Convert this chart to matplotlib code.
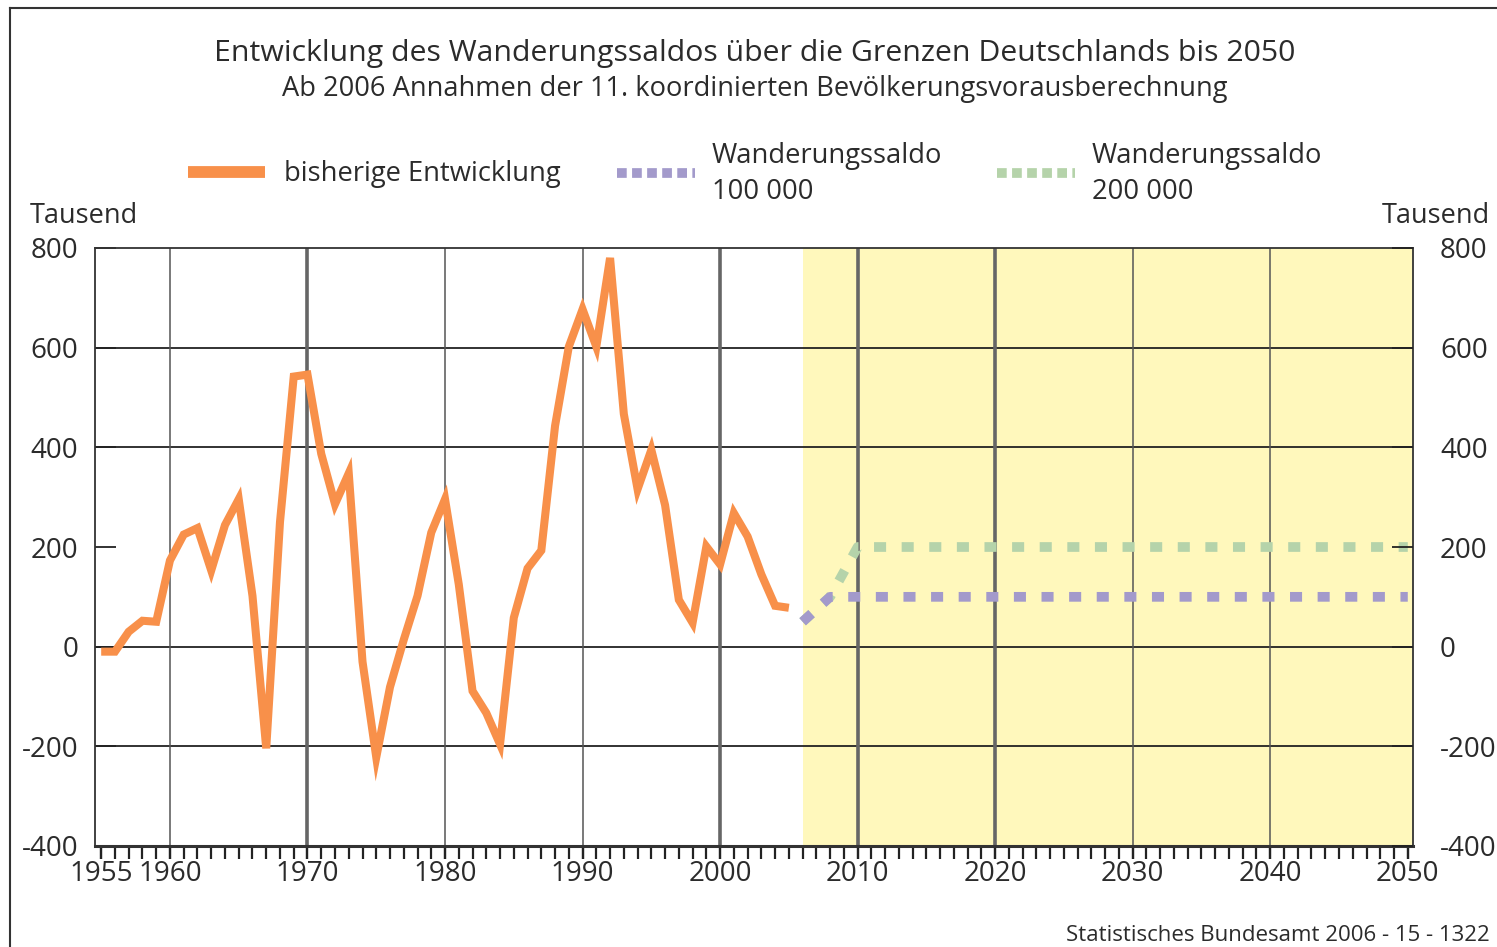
import matplotlib
matplotlib.use("Agg")
import matplotlib.pyplot as plt
from matplotlib.lines import Line2D
from matplotlib.ticker import MultipleLocator, FixedLocator
import numpy as np

plt.rcParams['font.family'] = ['Open Sans', 'DejaVu Sans']

# ---------------- data ----------------
title = "Entwicklung des Wanderungssaldos über die Grenzen Deutschlands bis 2050"
subtitle = "Ab 2006 Annahmen der 11. koordinierten Bevölkerungsvorausberechnung"
unit_label = "Tausend"
source = "Statistisches Bundesamt 2006 - 15 - 1322"

hist_years = list(range(1955, 2006))
hist_values = [-10, -10, 30, 52, 50, 173, 225, 238, 153, 244,
               296, 102, -204, 250, 542, 546, 387, 286, 348, -30,
               -222, -81, 14, 102, 229, 296, 125, -89, -133, -196,
               58, 157, 193, 443, 602, 677, 602, 780, 467, 316,
               395, 284, 94, 48, 201, 165, 268, 221, 145, 82,
               78]

proj100_years = [2006, 2007, 2008, 2050]
proj100_values = [50, 75, 100, 100]
proj200_years = [2006, 2007, 2008, 2009, 2010, 2050]
proj200_values = [50, 75, 100, 150, 200, 200]

label_hist = "bisherige Entwicklung"
label_100 = "Wanderungssaldo\n100 000"
label_200 = "Wanderungssaldo\n200 000"

y_ticks = [800, 600, 400, 200, 0, -200, -400]
y_gridlines = [600, 400, 0, -200]
x_ticks = [1955, 1960, 1970, 1980, 1990, 2000, 2010, 2020, 2030, 2040, 2050]
minor_years = list(range(1955, 2051))
thin_vlines = [1960, 1980, 1990, 2030, 2040]
thick_vlines = [1970, 2000, 2010, 2020]
proj_start = 2006

c_orange = '#F8904A'
c_purple = '#A39ACB'
c_green = '#B5D3AA'
c_yellow = '#FFF8BC'
c_text = '#2b2b2b'

# ---------------- figure ----------------
W, H = 1497, 947
fig = plt.figure(figsize=(W / 100, H / 100), dpi=100)
ax = fig.add_axes([95 / W, 1 - 846 / H, (1413 - 95) / W, (846 - 248) / H])
ax2 = ax.twinx()

x0, x1 = 1954.55, 2050.38
ax.set_xlim(x0, x1)
ax.set_ylim(-400, 800)
ax2.set_ylim(-400, 800)

ax.axvspan(proj_start, x1, color=c_yellow, zorder=0, lw=0)

for y in y_gridlines:
    ax.axhline(y, color='#222222', lw=1.3, zorder=1)
for x in thin_vlines:
    ax.axvline(x, color='#555555', lw=1.1, zorder=1)
for x in thick_vlines:
    ax.axvline(x, color='#666666', lw=2.6, zorder=1)

ax.plot(hist_years, hist_values, color=c_orange, lw=5.8, solid_joinstyle='miter',
        solid_capstyle='butt', zorder=3)
ax.plot(proj200_years, proj200_values, color=c_green, lw=7, dashes=(1.24, 1.6),
        dash_capstyle='butt', zorder=3)
ax.plot(proj100_years, proj100_values, color=c_purple, lw=7, dashes=(1.24, 1.6),
        dash_capstyle='butt', zorder=4)

tick_fs = 20
ax.yaxis.set_major_locator(FixedLocator(y_ticks))
ax.set_yticklabels([str(v) for v in y_ticks], fontsize=tick_fs, color=c_text)
ax.tick_params(axis='y', direction='in', length=15, width=1.3, color='#222222', pad=12)
ax.xaxis.set_major_locator(FixedLocator(x_ticks))
ax.set_xticklabels([str(v) for v in x_ticks], fontsize=tick_fs, color=c_text)
ax.xaxis.set_minor_locator(FixedLocator(minor_years))
ax.xaxis.remove_overlapping_locs = False
ax.tick_params(axis='x', which='both', direction='out', length=9, width=1.6,
               color='#222222', pad=1, bottom=True, top=False)

for s in ax.spines.values():
    s.set_color('#333333')
    s.set_linewidth(1.3)
ax.spines['bottom'].set_linewidth(2.2)

ax2.yaxis.set_major_locator(FixedLocator(y_ticks))
ax2.set_yticklabels([str(v) for v in y_ticks], fontsize=tick_fs, color=c_text)
ax2.tick_params(axis='y', direction='in', length=15, width=1.3, color='#222222', pad=19.5)
for s in ax2.spines.values():
    s.set_visible(False)

# titles
fig.text(755 / W, 1 - 53 / H, title, ha='center', va='center', fontsize=21.8, color=c_text)
fig.text(755 / W, 1 - 89 / H, subtitle, ha='center', va='center', fontsize=19.6, color=c_text)

fig.text(30 / W, 1 - 216 / H, unit_label, ha='left', va='center', fontsize=19.5, color=c_text)
fig.text(1490 / W, 1 - 216 / H, unit_label, ha='right', va='center', fontsize=19.5, color=c_text)

# legend
leg_fs = 19.7
fig.add_artist(Line2D([188 / W, 265 / W], [1 - 172 / H] * 2, color=c_orange, lw=8.5,
                      solid_capstyle='butt'))
fig.text(284 / W, 1 - 174 / H, label_hist, ha='left', va='center', fontsize=leg_fs, color=c_text)
fig.add_artist(Line2D([617 / W, 695 / W], [1 - 173 / H] * 2, color=c_purple, lw=7,
                      dashes=(1.0, 0.55), dash_capstyle='butt'))
fig.text(712 / W, 1 - 174 / H, label_100, ha='left', va='center', fontsize=leg_fs,
         color=c_text, linespacing=1.38)
fig.add_artist(Line2D([997 / W, 1075 / W], [1 - 173 / H] * 2, color=c_green, lw=7,
                      dashes=(1.0, 0.55), dash_capstyle='butt'))
fig.text(1092 / W, 1 - 174 / H, label_200, ha='left', va='center', fontsize=leg_fs,
         color=c_text, linespacing=1.38)

fig.text(1490 / W, 1 - 935 / H, source, ha='right', va='center', fontsize=16, color=c_text)

# outer frame (top and left)
fig.add_artist(Line2D([10 / W, 1], [1 - 8 / H] * 2, color='#333333', lw=1.5))
fig.add_artist(Line2D([10 / W] * 2, [0, 1 - 8 / H], color='#333333', lw=1.5))

fig.savefig('out.png', dpi=100)
